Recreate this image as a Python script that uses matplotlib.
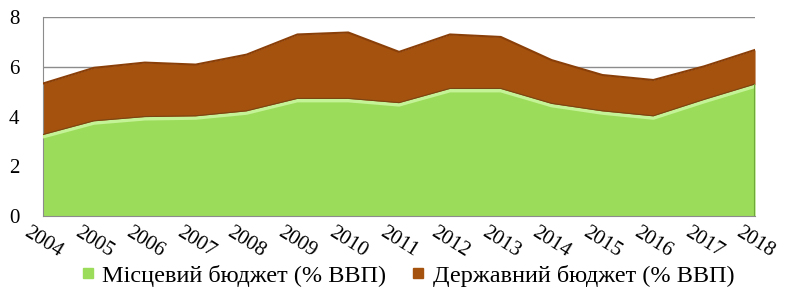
import numpy as np
import matplotlib
matplotlib.use("Agg")
import matplotlib.pyplot as plt
from matplotlib.lines import Line2D

plt.rcParams['font.family'] = ['Liberation Serif', 'DejaVu Serif']

# Data (% of GDP)
years = [2004, 2005, 2006, 2007, 2008, 2009, 2010, 2011, 2012, 2013, 2014, 2015, 2016, 2017, 2018]
local_budget = [3.25, 3.8, 3.97, 4.0, 4.2, 4.7, 4.7, 4.53, 5.1, 5.1, 4.5, 4.2, 4.0, 4.66, 5.28]
state_budget = [2.08, 2.16, 2.2, 2.09, 2.29, 2.6, 2.68, 2.07, 2.2, 2.1, 1.77, 1.47, 1.47, 1.36, 1.4]
labels = ['Місцевий бюджет (% ВВП)', 'Державний бюджет (% ВВП)']

green = '#9BDC5A'
brown = '#A5520F'

fig = plt.figure(figsize=(7.99, 2.94), dpi=100)
ax = fig.add_axes([0.054, 0.265, 0.891, 0.677])

x = np.array(years)
loc = np.array(local_budget)
tot = loc + np.array(state_budget)

ax.fill_between(x, 0, loc, color=green, lw=0, zorder=2)
ax.fill_between(x, loc, tot, color=brown, lw=0, zorder=2)
# edge highlights
ax.plot(x, tot, color='#8A3F08', lw=1.5, zorder=3)
ax.plot(x, loc - 0.06, color='#C4F296', lw=2.5, zorder=3)
ax.plot(x, loc + 0.03, color='#7A4512', lw=0.8, zorder=3)
ax.plot([2018, 2018], [0, loc[-1]], color='#6FA83A', lw=1.5, zorder=3)

ax.set_xlim(2004, 2018)
ax.set_ylim(0, 8)
ax.set_yticks([0, 2, 4, 6, 8])
ax.yaxis.grid(True, color='#8C8C8C', lw=1)
ax.set_axisbelow(True)
for s in ['top', 'right']:
    ax.spines[s].set_visible(False)
for s in ['left', 'bottom']:
    ax.spines[s].set_color('#8C8C8C')
ax.tick_params(axis='both', length=0)
ax.tick_params(axis='y', pad=17, labelsize=15)
ax.set_xticks(years)
ax.set_xticklabels([str(y) for y in years], rotation=-32, ha='center', fontsize=15)
ax.tick_params(axis='x', pad=5)

handles = [Line2D([], [], marker='s', ls='', color=green, markersize=7),
           Line2D([], [], marker='s', ls='', color=brown, markersize=7)]
fig.legend(handles, labels, loc='lower center', bbox_to_anchor=(0.51, -0.05), ncol=2,
           frameon=False, fontsize=17.5, handlelength=0.6, handletextpad=0.3,
           columnspacing=1.0)

fig.savefig('out.png', dpi=100)
